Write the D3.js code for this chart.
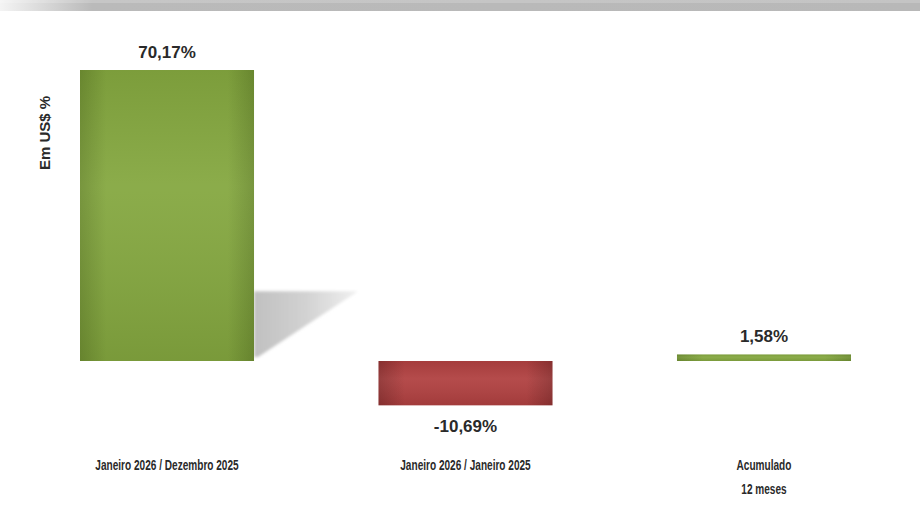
<!DOCTYPE html>
<html><head><meta charset="utf-8">
<script src="https://cdn.jsdelivr.net/npm/d3@7"></script>
<style>
html,body{margin:0;padding:0;background:#fff;}
svg{display:block;}
text{font-family:"Liberation Sans",Arial,sans-serif;font-weight:bold;fill:#2a2a2a;}
</style></head>
<body>
<script>
const categories = ["Janeiro 2026 / Dezembro 2025", "Janeiro 2026 / Janeiro 2025", "Acumulado\n12 meses"];
const values = [70.17, -10.69, 1.58];
const valueLabels = ["70,17%", "-10,69%", "1,58%"];
const yAxisTitle = "Em US$ %";

const W = 920, H = 529;
const svg = d3.select("body").append("svg").attr("width", W).attr("height", H);
const defs = svg.append("defs");

// top strip
const tg = defs.append("linearGradient").attr("id","topg").attr("x1","0").attr("x2","1");
tg.append("stop").attr("offset","0").attr("stop-color","#f4f4f4");
tg.append("stop").attr("offset","0.1").attr("stop-color","#bababa");
tg.append("stop").attr("offset","1").attr("stop-color","#b8b8b8");
svg.append("rect").attr("x",0).attr("y",0).attr("width",W).attr("height",11).attr("fill","url(#topg)");
svg.append("rect").attr("x",0).attr("y",0).attr("width",W).attr("height",3).attr("fill","#fff").attr("opacity",0.18);

function hgrad(id, edge, mid){
  const g = defs.append("linearGradient").attr("id",id).attr("x1","0").attr("x2","1");
  g.append("stop").attr("offset","0").attr("stop-color",edge);
  g.append("stop").attr("offset","0.15").attr("stop-color",mid);
  g.append("stop").attr("offset","0.5").attr("stop-color",mid);
  g.append("stop").attr("offset","0.85").attr("stop-color",mid);
  g.append("stop").attr("offset","1").attr("stop-color",edge);
}
hgrad("gGreen","#6f8f32","#84a73f");
hgrad("gRed","#8f3232","#b04040");
const vg = defs.append("linearGradient").attr("id","gVert").attr("x1","0").attr("x2","0").attr("y1","0").attr("y2","1");
vg.append("stop").attr("offset","0").attr("stop-color","#000").attr("stop-opacity",0.06);
vg.append("stop").attr("offset","0.4").attr("stop-color","#fff").attr("stop-opacity",0.06);
vg.append("stop").attr("offset","1").attr("stop-color","#000").attr("stop-opacity",0.08);

const sg = defs.append("linearGradient").attr("id","gShadow").attr("x1","0").attr("x2","1").attr("y1","0").attr("y2","0");
sg.append("stop").attr("offset","0").attr("stop-color","#c0c0c0");
sg.append("stop").attr("offset","0.5").attr("stop-color","#d2d2d2");
sg.append("stop").attr("offset","1").attr("stop-color","#f0f0f0");
defs.append("filter").attr("id","blur").attr("x","-10%").attr("y","-10%").attr("width","120%").attr("height","120%")
  .append("feGaussianBlur").attr("stdDeviation",1.5);

const x = d3.scaleBand().domain(categories).range([80, 851]).paddingInner(0.417).paddingOuter(0);
const pxPer = 4.147, zeroY = 361;
const y = d3.scaleLinear().domain([-20, 75]).range([zeroY + 20*pxPer, zeroY - 75*pxPer]);

// shadow of the first bar
const b0x = x(categories[0]) + x.bandwidth();
const sTop = y(values[0]*0.24);
svg.append("path")
  .attr("d", `M${b0x},${sTop} L${b0x+104},${sTop} L${b0x+4},${y(0)-4} L${b0x},${y(0)-4} Z`)
  .attr("fill","url(#gShadow)").attr("filter","url(#blur)");

const data = categories.map((c,i)=>({c, v:values[i], lab:valueLabels[i]}));

const bars = svg.selectAll("g.bar").data(data).enter().append("g").attr("class","bar");
bars.append("rect")
  .attr("x", d=>x(d.c))
  .attr("width", x.bandwidth())
  .attr("y", d=>Math.min(y(d.v), y(0)))
  .attr("height", d=>Math.max(Math.abs(y(d.v)-y(0)), 5))
  .attr("fill", d=> d.v>=0 ? "url(#gGreen)" : "url(#gRed)");
bars.append("rect")
  .attr("x", d=>x(d.c))
  .attr("width", x.bandwidth())
  .attr("y", d=>Math.min(y(d.v), y(0)))
  .attr("height", d=>Math.max(Math.abs(y(d.v)-y(0)), 5))
  .attr("fill", "url(#gVert)");

svg.selectAll("text.val").data(data).enter().append("text")
  .attr("class","val")
  .attr("x", d=>x(d.c)+x.bandwidth()/2)
  .attr("y", d=> d.v>=0 ? Math.min(y(d.v), y(0)-5) - 12 : y(d.v) + 27)
  .attr("text-anchor","middle")
  .attr("font-size", 17)
  .text(d=>d.lab);

// category labels (horizontally condensed like the original narrow font)
const catG = svg.selectAll("g.cat").data(data).enter().append("g")
  .attr("class","cat")
  .attr("transform", d=>`translate(${x(d.c)+x.bandwidth()/2},470) scale(0.72,1)`);
catG.append("text")
  .attr("text-anchor","middle")
  .attr("font-size", 14)
  .each(function(d){
    const lines = d.c.split("\n");
    d3.select(this).selectAll("tspan").data(lines).enter().append("tspan")
      .attr("x", 0)
      .attr("dy", (l,i)=> i===0 ? 0 : 24)
      .text(l=>l);
  });

svg.append("text")
  .attr("transform","translate(50,133) rotate(-90)")
  .attr("text-anchor","middle")
  .attr("font-size", 15)
  .text(yAxisTitle);
</script>
</body></html>
